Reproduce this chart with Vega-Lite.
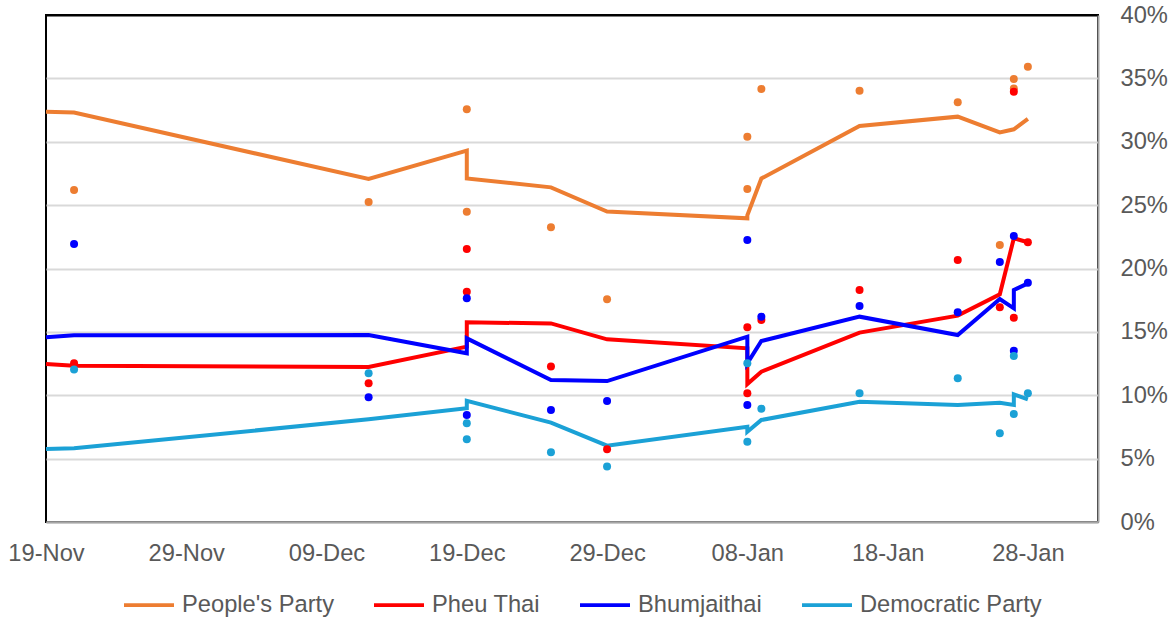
{
  "$schema": "https://vega.github.io/schema/vega-lite/v6.json",
  "width": 1052,
  "height": 507,
  "autosize": {"type": "none"},
  "padding": {"left": 46, "top": 15, "right": 78, "bottom": 96},
  "background": "white",
  "config": {
    "font": "Liberation Sans",
    "view": {"stroke": "#000000", "strokeWidth": 2}
  },
  "datasets": {
    "avg": [
      {"party": "People's Party", "i": 1, "date": "2025-11-19", "v": 0.3237},
      {"party": "People's Party", "i": 2, "date": "2025-11-21", "v": 0.3230},
      {"party": "People's Party", "i": 3, "date": "2025-12-12", "v": 0.2706},
      {"party": "People's Party", "i": 4, "date": "2025-12-19", "v": 0.2930},
      {"party": "People's Party", "i": 5, "date": "2025-12-19", "v": 0.2710},
      {"party": "People's Party", "i": 6, "date": "2025-12-25", "v": 0.2640},
      {"party": "People's Party", "i": 7, "date": "2025-12-29", "v": 0.2450},
      {"party": "People's Party", "i": 8, "date": "2026-01-08", "v": 0.2396},
      {"party": "People's Party", "i": 9, "date": "2026-01-08", "v": 0.2420},
      {"party": "People's Party", "i": 10, "date": "2026-01-09", "v": 0.2710},
      {"party": "People's Party", "i": 11, "date": "2026-01-16", "v": 0.3124},
      {"party": "People's Party", "i": 12, "date": "2026-01-23", "v": 0.3198},
      {"party": "People's Party", "i": 13, "date": "2026-01-26", "v": 0.3074},
      {"party": "People's Party", "i": 14, "date": "2026-01-27", "v": 0.3098},
      {"party": "People's Party", "i": 15, "date": "2026-01-28", "v": 0.3180},
      {"party": "Pheu Thai", "i": 1, "date": "2025-11-19", "v": 0.1247},
      {"party": "Pheu Thai", "i": 2, "date": "2025-11-21", "v": 0.1233},
      {"party": "Pheu Thai", "i": 3, "date": "2025-12-12", "v": 0.1223},
      {"party": "Pheu Thai", "i": 4, "date": "2025-12-19", "v": 0.1383},
      {"party": "Pheu Thai", "i": 5, "date": "2025-12-19", "v": 0.1575},
      {"party": "Pheu Thai", "i": 6, "date": "2025-12-25", "v": 0.1567},
      {"party": "Pheu Thai", "i": 7, "date": "2025-12-29", "v": 0.1441},
      {"party": "Pheu Thai", "i": 8, "date": "2026-01-08", "v": 0.1370},
      {"party": "Pheu Thai", "i": 9, "date": "2026-01-08", "v": 0.1089},
      {"party": "Pheu Thai", "i": 10, "date": "2026-01-09", "v": 0.1186},
      {"party": "Pheu Thai", "i": 11, "date": "2026-01-16", "v": 0.1494},
      {"party": "Pheu Thai", "i": 12, "date": "2026-01-23", "v": 0.1628},
      {"party": "Pheu Thai", "i": 13, "date": "2026-01-26", "v": 0.1796},
      {"party": "Pheu Thai", "i": 14, "date": "2026-01-27", "v": 0.2238},
      {"party": "Pheu Thai", "i": 15, "date": "2026-01-28", "v": 0.2207},
      {"party": "Bhumjaithai", "i": 1, "date": "2025-11-19", "v": 0.1457},
      {"party": "Bhumjaithai", "i": 2, "date": "2025-11-21", "v": 0.1473},
      {"party": "Bhumjaithai", "i": 3, "date": "2025-12-12", "v": 0.1475},
      {"party": "Bhumjaithai", "i": 4, "date": "2025-12-19", "v": 0.1331},
      {"party": "Bhumjaithai", "i": 5, "date": "2025-12-19", "v": 0.1449},
      {"party": "Bhumjaithai", "i": 6, "date": "2025-12-25", "v": 0.1120},
      {"party": "Bhumjaithai", "i": 7, "date": "2025-12-29", "v": 0.1112},
      {"party": "Bhumjaithai", "i": 8, "date": "2026-01-08", "v": 0.1462},
      {"party": "Bhumjaithai", "i": 9, "date": "2026-01-08", "v": 0.1252},
      {"party": "Bhumjaithai", "i": 10, "date": "2026-01-09", "v": 0.1428},
      {"party": "Bhumjaithai", "i": 11, "date": "2026-01-16", "v": 0.1620},
      {"party": "Bhumjaithai", "i": 12, "date": "2026-01-23", "v": 0.1475},
      {"party": "Bhumjaithai", "i": 13, "date": "2026-01-26", "v": 0.1759},
      {"party": "Bhumjaithai", "i": 14, "date": "2026-01-27", "v": 0.1686},
      {"party": "Bhumjaithai", "i": 15, "date": "2026-01-27", "v": 0.1830},
      {"party": "Bhumjaithai", "i": 16, "date": "2026-01-28", "v": 0.1883},
      {"party": "Democratic Party", "i": 1, "date": "2025-11-19", "v": 0.0576},
      {"party": "Democratic Party", "i": 2, "date": "2025-11-21", "v": 0.0581},
      {"party": "Democratic Party", "i": 3, "date": "2025-12-12", "v": 0.0810},
      {"party": "Democratic Party", "i": 4, "date": "2025-12-19", "v": 0.0897},
      {"party": "Democratic Party", "i": 5, "date": "2025-12-19", "v": 0.0956},
      {"party": "Democratic Party", "i": 6, "date": "2025-12-25", "v": 0.0784},
      {"party": "Democratic Party", "i": 7, "date": "2025-12-29", "v": 0.0602},
      {"party": "Democratic Party", "i": 8, "date": "2026-01-08", "v": 0.0752},
      {"party": "Democratic Party", "i": 9, "date": "2026-01-08", "v": 0.0712},
      {"party": "Democratic Party", "i": 10, "date": "2026-01-09", "v": 0.0805},
      {"party": "Democratic Party", "i": 11, "date": "2026-01-16", "v": 0.0949},
      {"party": "Democratic Party", "i": 12, "date": "2026-01-23", "v": 0.0923},
      {"party": "Democratic Party", "i": 13, "date": "2026-01-26", "v": 0.0941},
      {"party": "Democratic Party", "i": 14, "date": "2026-01-27", "v": 0.0923},
      {"party": "Democratic Party", "i": 15, "date": "2026-01-27", "v": 0.1007},
      {"party": "Democratic Party", "i": 16, "date": "2026-01-28", "v": 0.0968}
    ],
    "polls": [
      {"party": "People's Party", "date": "2025-11-21", "v": 0.2619},
      {"party": "People's Party", "date": "2025-12-12", "v": 0.2525},
      {"party": "People's Party", "date": "2025-12-19", "v": 0.3256},
      {"party": "People's Party", "date": "2025-12-19", "v": 0.2448},
      {"party": "People's Party", "date": "2025-12-25", "v": 0.2325},
      {"party": "People's Party", "date": "2025-12-29", "v": 0.1757},
      {"party": "People's Party", "date": "2026-01-08", "v": 0.3040},
      {"party": "People's Party", "date": "2026-01-08", "v": 0.2627},
      {"party": "People's Party", "date": "2026-01-09", "v": 0.3416},
      {"party": "People's Party", "date": "2026-01-16", "v": 0.3403},
      {"party": "People's Party", "date": "2026-01-23", "v": 0.3311},
      {"party": "People's Party", "date": "2026-01-26", "v": 0.2185},
      {"party": "People's Party", "date": "2026-01-27", "v": 0.3495},
      {"party": "People's Party", "date": "2026-01-27", "v": 0.3420},
      {"party": "People's Party", "date": "2026-01-28", "v": 0.3592},
      {"party": "Pheu Thai", "date": "2025-11-21", "v": 0.1252},
      {"party": "Pheu Thai", "date": "2025-12-12", "v": 0.1094},
      {"party": "Pheu Thai", "date": "2025-12-19", "v": 0.2154},
      {"party": "Pheu Thai", "date": "2025-12-19", "v": 0.1817},
      {"party": "Pheu Thai", "date": "2025-12-25", "v": 0.1226},
      {"party": "Pheu Thai", "date": "2025-12-29", "v": 0.0573},
      {"party": "Pheu Thai", "date": "2026-01-08", "v": 0.1536},
      {"party": "Pheu Thai", "date": "2026-01-08", "v": 0.1015},
      {"party": "Pheu Thai", "date": "2026-01-09", "v": 0.1594},
      {"party": "Pheu Thai", "date": "2026-01-16", "v": 0.1830},
      {"party": "Pheu Thai", "date": "2026-01-23", "v": 0.2067},
      {"party": "Pheu Thai", "date": "2026-01-26", "v": 0.1694},
      {"party": "Pheu Thai", "date": "2026-01-27", "v": 0.3395},
      {"party": "Pheu Thai", "date": "2026-01-27", "v": 0.1612},
      {"party": "Pheu Thai", "date": "2026-01-28", "v": 0.2207},
      {"party": "Bhumjaithai", "date": "2025-11-21", "v": 0.2193},
      {"party": "Bhumjaithai", "date": "2025-12-12", "v": 0.0984},
      {"party": "Bhumjaithai", "date": "2025-12-19", "v": 0.1765},
      {"party": "Bhumjaithai", "date": "2025-12-19", "v": 0.0844},
      {"party": "Bhumjaithai", "date": "2025-12-25", "v": 0.0884},
      {"party": "Bhumjaithai", "date": "2025-12-29", "v": 0.0955},
      {"party": "Bhumjaithai", "date": "2026-01-08", "v": 0.2225},
      {"party": "Bhumjaithai", "date": "2026-01-08", "v": 0.0923},
      {"party": "Bhumjaithai", "date": "2026-01-09", "v": 0.1620},
      {"party": "Bhumjaithai", "date": "2026-01-16", "v": 0.1704},
      {"party": "Bhumjaithai", "date": "2026-01-23", "v": 0.1654},
      {"party": "Bhumjaithai", "date": "2026-01-26", "v": 0.2051},
      {"party": "Bhumjaithai", "date": "2026-01-27", "v": 0.2256},
      {"party": "Bhumjaithai", "date": "2026-01-27", "v": 0.1352},
      {"party": "Bhumjaithai", "date": "2026-01-28", "v": 0.1888},
      {"party": "Democratic Party", "date": "2025-11-21", "v": 0.1204},
      {"party": "Democratic Party", "date": "2025-12-12", "v": 0.1173},
      {"party": "Democratic Party", "date": "2025-12-19", "v": 0.0779},
      {"party": "Democratic Party", "date": "2025-12-19", "v": 0.0652},
      {"party": "Democratic Party", "date": "2025-12-25", "v": 0.0550},
      {"party": "Democratic Party", "date": "2025-12-29", "v": 0.0437},
      {"party": "Democratic Party", "date": "2026-01-08", "v": 0.1252},
      {"party": "Democratic Party", "date": "2026-01-08", "v": 0.0634},
      {"party": "Democratic Party", "date": "2026-01-09", "v": 0.0894},
      {"party": "Democratic Party", "date": "2026-01-16", "v": 0.1015},
      {"party": "Democratic Party", "date": "2026-01-23", "v": 0.1134},
      {"party": "Democratic Party", "date": "2026-01-26", "v": 0.0700},
      {"party": "Democratic Party", "date": "2026-01-27", "v": 0.1310},
      {"party": "Democratic Party", "date": "2026-01-27", "v": 0.0852},
      {"party": "Democratic Party", "date": "2026-01-28", "v": 0.1015}
    ]
  },
  "encoding": {
    "x": {
      "field": "date",
      "type": "temporal",
      "scale": {
        "type": "utc",
        "domain": [
          {"year": 2025, "month": 11, "date": 19, "utc": true},
          {"year": 2026, "month": 2, "date": 2, "utc": true}
        ]
      },
      "axis": {
        "title": null,
        "values": [
          {"year": 2025, "month": 11, "date": 19, "utc": true},
          {"year": 2025, "month": 11, "date": 29, "utc": true},
          {"year": 2025, "month": 12, "date": 9, "utc": true},
          {"year": 2025, "month": 12, "date": 19, "utc": true},
          {"year": 2025, "month": 12, "date": 29, "utc": true},
          {"year": 2026, "month": 1, "date": 8, "utc": true},
          {"year": 2026, "month": 1, "date": 18, "utc": true},
          {"year": 2026, "month": 1, "date": 28, "utc": true}
        ],
        "format": "%d-%b",
        "grid": false,
        "ticks": false,
        "labelPadding": 19,
        "labelFont": "Liberation Sans",
        "labelFontSize": 23.7,
        "labelColor": "#595959",
        "labelFlush": false,
        "labelOverlap": false,
        "domainColor": "#a6a6a6",
        "domainWidth": 2
      }
    },
    "y": {
      "field": "v",
      "type": "quantitative",
      "scale": {"domain": [0, 0.4], "nice": false},
      "axis": {
        "title": null,
        "orient": "right",
        "values": [0, 0.05, 0.1, 0.15, 0.2, 0.25, 0.3, 0.35, 0.4],
        "format": ".0%",
        "grid": true,
        "gridColor": {"condition": {"test": "datum.value >= 0.39", "value": "#000000"}, "value": "#d9d9d9"},
        "gridWidth": 2,
        "ticks": false,
        "labelPadding": 22,
        "labelFont": "Liberation Sans",
        "labelFontSize": 23.7,
        "labelColor": "#595959",
        "labelFlush": false,
        "labelOverlap": false,
        "domainColor": "#a6a6a6",
        "domainWidth": 2
      }
    },
    "color": {
      "field": "party",
      "type": "nominal",
      "scale": {
        "domain": ["People's Party", "Pheu Thai", "Bhumjaithai", "Democratic Party"],
        "range": ["#ED7D31", "#FF0000", "#0000FF", "#1BA1D6"]
      },
      "legend": {
        "title": null,
        "orient": "none",
        "legendX": 76,
        "legendY": 563,
        "direction": "horizontal",
        "symbolType": "stroke",
        "symbolStrokeWidth": 3.75,
        "symbolSize": 2500,
        "labelFont": "Liberation Sans",
        "labelFontSize": 23.7,
        "labelColor": "#595959",
        "labelLimit": 0,
        "labelOffset": 6,
        "columnPadding": 32
      }
    }
  },
  "layer": [
    {
      "data": {"name": "avg"},
      "mark": {"type": "line", "strokeWidth": 4},
      "encoding": {"order": {"field": "i", "type": "quantitative"}}
    },
    {
      "data": {"name": "polls"},
      "mark": {"type": "circle", "size": 64, "opacity": 1}
    }
  ]
}
